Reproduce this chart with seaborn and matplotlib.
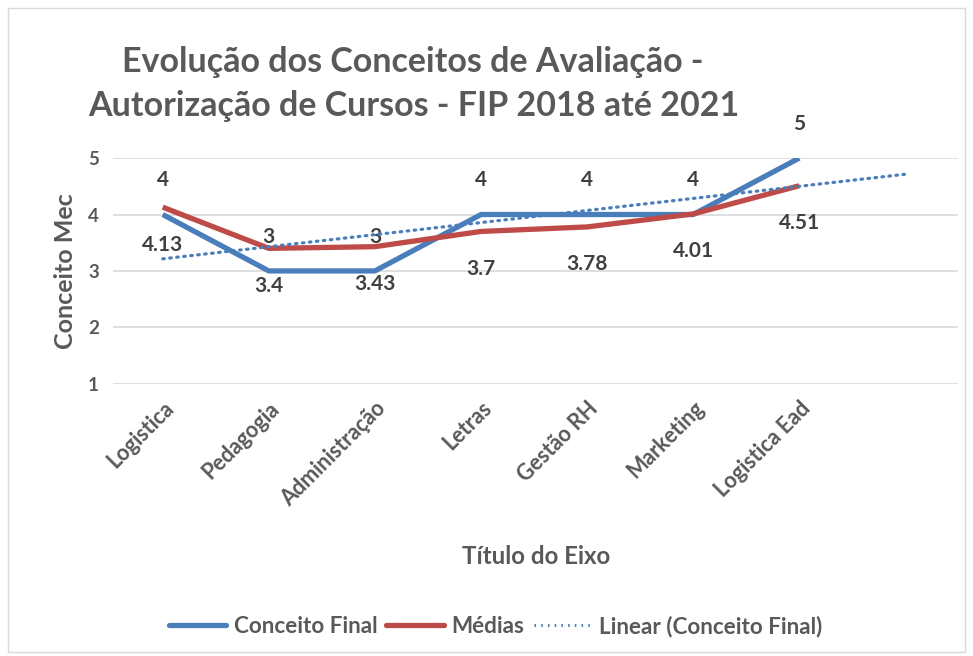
import numpy as np
import pandas as pd
import matplotlib
matplotlib.use("Agg")
import matplotlib.pyplot as plt
from matplotlib.lines import Line2D
from matplotlib.patches import Rectangle
import seaborn as sns

categories = ["Logistica", "Pedagogia", "Administração", "Letras", "Gestão RH", "Marketing", "Logistica Ead"]
conceito_final = [4, 3, 3, 4, 4, 4, 5]
medias = [4.13, 3.4, 3.43, 3.7, 3.78, 4.01, 4.51]
media_labels = ["4.13", "3.4", "3.43", "3.7", "3.78", "4.01", "4.51"]
yticks = [1, 2, 3, 4, 5]

sns.set_theme(style="white")
plt.rcParams['font.family'] = ['Lato', 'DejaVu Sans']
GRAY = "#595959"
DARK = "#404040"
BLUE = "#4A7EBB"
RED = "#BE4B48"

df = pd.DataFrame({"pos": np.arange(len(categories)), "cat": categories,
                   "final": conceito_final, "media": medias})

fig = plt.figure(figsize=(9.73, 6.56), dpi=100)
ax = fig.add_axes([0.116, 0.415, 0.869, 0.344])

# frame around chart
fig.patches.append(Rectangle((0.008, 0.006), 0.984, 0.982, transform=fig.transFigure,
                             fill=False, edgecolor="#D9D9D9", linewidth=1.0))

sns.lineplot(data=df, x="pos", y="final", ax=ax, color=BLUE, linewidth=3.8,
             solid_capstyle="butt", zorder=3)
sns.lineplot(data=df, x="pos", y="media", ax=ax, color=RED, linewidth=3.8,
             solid_capstyle="butt", zorder=4)

# linear trendline with 1 period forward forecast
coef = np.polyfit(df["pos"], df["final"], 1)
tx = np.array([0, len(categories)])
sns.lineplot(x=tx, y=np.polyval(coef, tx), ax=ax, color=BLUE, linewidth=2.3,
             linestyle=(0, (0.5, 1.7)), dash_capstyle="round", zorder=5)

ax.set_xlim(-0.47, len(categories) + 0.5)
ax.set_ylim(1, 5)
ax.set_yticks(yticks)
ax.set_yticklabels([str(v) for v in yticks], fontsize=13.5, fontweight="bold", color=GRAY)
ax.yaxis.grid(True, color="#D9D9D9", linewidth=1.2)
ax.set_axisbelow(True)
for s in ax.spines.values():
    s.set_visible(False)
ax.tick_params(axis="y", length=0, pad=10)
ax.set_xticks(df["pos"])
ax.set_xticklabels(categories, rotation=45, ha="right", rotation_mode="anchor",
                   fontsize=15.5, fontweight="bold", color=GRAY)
ax.tick_params(axis="x", length=0, pad=10)
ax.set_xlabel("")
ax.set_ylabel("Conceito Mec", fontsize=18, fontweight="bold", color=GRAY, labelpad=8)

# data labels
for i, v in enumerate(conceito_final):
    ax.annotate(str(v), (i, v), xytext=(0, 24.5), textcoords="offset points",
                ha="center", va="center", fontsize=15, fontweight="bold", color=DARK)
for i, (v, lab) in enumerate(zip(medias, media_labels)):
    ax.annotate(lab, (i, v), xytext=(0, -27), textcoords="offset points",
                ha="center", va="center", fontsize=15, fontweight="bold", color=DARK)

fig.text(0.424, 0.906, "Evolução dos Conceitos de Avaliação -", ha="center", va="center",
         fontsize=24.5, fontweight="bold", color=GRAY)
fig.text(0.425, 0.838, "Autorização de Cursos - FIP 2018 até 2021", ha="center", va="center",
         fontsize=24.5, fontweight="bold", color=GRAY)

fig.text(0.551, 0.152, "Título do Eixo", ha="center", va="center",
         fontsize=17.3, fontweight="bold", color=GRAY)

handles = [Line2D([], [], color=BLUE, linewidth=3.8),
           Line2D([], [], color=RED, linewidth=3.8),
           Line2D([], [], color=BLUE, linewidth=2.2, linestyle=(0, (0.5, 1.7)))]
fig.legend(handles, ["Conceito Final", "Médias", "Linear (Conceito Final)"],
           loc="center", bbox_to_anchor=(0.509, 0.045), ncol=3, frameon=False,
           prop={"size": 16.2, "weight": "bold"}, labelcolor=GRAY,
           handlelength=2.55, columnspacing=0.4, handletextpad=0.35)

fig.savefig("out.png", dpi=100)
